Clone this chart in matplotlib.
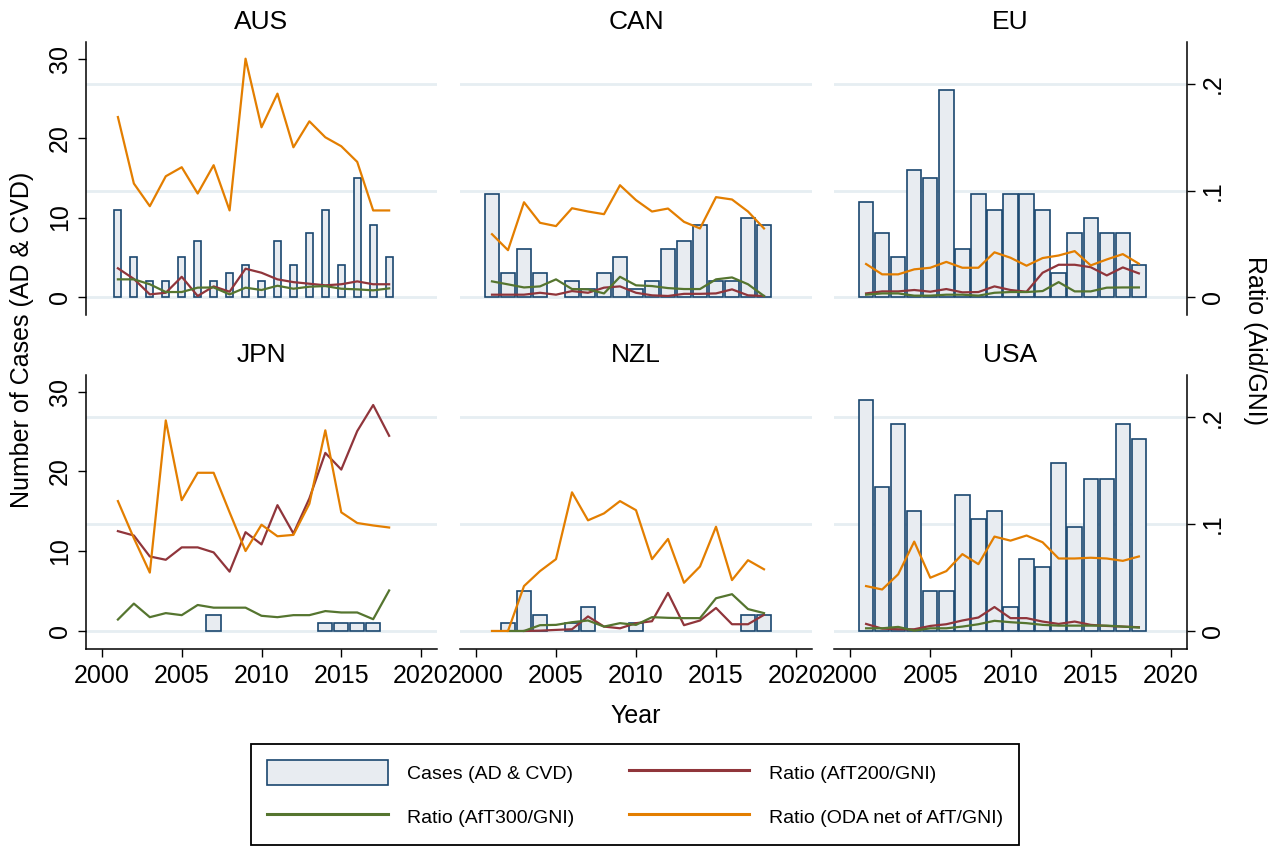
import numpy as np
import matplotlib
matplotlib.use("Agg")
import matplotlib.pyplot as plt
from matplotlib.patches import Patch
from matplotlib.lines import Line2D

plt.rcParams['font.family'] = ['Liberation Sans', 'DejaVu Sans']

nan = np.nan
years = np.arange(2001, 2019)
countries = ['AUS', 'CAN', 'EU', 'JPN', 'NZL', 'USA']

# cases (AD & CVD) per year
cases_aus = [11, 5, 2, 2, 5, 7, 2, 3, 4, 2, 7, 4, 8, 11, 4, 15, 9, 5]
cases_can = [13, 3, 6, 3, 0, 2, 1, 3, 5, 1, 2, 6, 7, 9, 2, 2, 10, 9]
cases_eu = [12, 8, 5, 16, 15, 26, 6, 13, 11, 13, 13, 11, 3, 8, 10, 8, 8, 4]
cases_jpn = [0, 0, 0, 0, 0, 0, 2, 0, 0, 0, 0, 0, 0, 1, 1, 1, 1, 0]
cases_nzl = [0, 1, 5, 2, 0, 1, 3, 0, 0, 1, 0, 0, 0, 0, 0, 0, 2, 2]
cases_usa = [29, 18, 26, 15, 5, 5, 17, 14, 15, 3, 9, 8, 21, 13, 19, 19, 26, 24]

# Ratio (AfT200/GNI)
aft200_aus = [.027, .017, .0025, .004, .019, .001, .010, .005, .0266, .0228,
              .0166, .014, .0125, .011, .012, .0147, .012, .012]
aft200_can = [.0022, .0022, .0022, .004, .0022, .0056, .004, .0088, .010, .004,
              .0016, .001, .003, .003, .0034, .0072, .0016, .001]
aft200_eu = [.0034, .0053, .0053, .0066, .005, .0075, .0044, .0047, .010, .0066,
             .005, .0228, .0303, .0303, .028, .0203, .0278, .0222]
aft200_jpn = [.0934, .0893, .0697, .0666, .0782, .0782, .0735, .0555, .0924, .081,
              .1177, .0912, .124, .1666, .151, .187, .2114, .1826]
aft200_nzl = [nan, nan, 0, .0003, .001, .0016, .0136, .0041, .0025, .0073,
              .0091, .0356, .0054, .0098, .0215, .0063, .0063, .0151]
aft200_usa = [.0066, .0022, .0016, .0016, .0047, .0063, .0098, .0126, .0224, .012,
              .012, .0088, .0066, .0088, .0057, .0047, .0041, .0035]

# Ratio (AfT300/GNI)
aft300_aus = [.0166, .0166, .012, .0047, .0047, .0088, .009, .0025, .0088, .0066,
              .0106, .0078, .0097, .0103, .0078, .0072, .0063, .0081]
aft300_can = [.0147, .0119, .009, .010, .0166, .0075, .0072, .0034, .019, .011,
              .0103, .0084, .0075, .0075, .0166, .0184, .012, .001]
aft300_eu = [.0022, .0034, .0034, .0013, .0013, .0022, .0022, .0013, .004, .0047,
             .0047, .0056, .014, .0053, .0053, .0088, .009, .009]
aft300_jpn = [.0107, .0256, .0129, .0167, .0148, .0243, .0218, .0218, .0218, .0142,
              .0129, .0148, .0148, .0186, .0173, .0173, .011, .0379]
aft300_nzl = [nan, 0, 0, .0054, .0057, .0082, .0098, .0041, .0073, .0057,
              .0129, .0123, .012, .012, .0306, .0344, .0205, .0167]
aft300_usa = [.0025, .0025, .0038, .0003, .0025, .0025, .0041, .0063, .0095, .0082,
              .0073, .0057, .005, .005, .005, .005, .0041, .0032]

# Ratio (ODA net of AfT/GNI)
oda_aus = [.169, .1066, .0853, .1134, .1219, .0972, .1238, .0813, .2238, .1594,
           .191, .1406, .165, .150, .1416, .1269, .0813, .0813]
oda_can = [.059, .044, .089, .0697, .0666, .0834, .0803, .0778, .105, .091,
           .0803, .0831, .0706, .0644, .0938, .0916, .0803, .0644]
oda_eu = [.031, .0213, .0213, .026, .0275, .033, .0275, .0275, .042, .0369,
          .0294, .0366, .039, .0431, .0297, .0353, .0403, .0313]
oda_jpn = [.1215, .0868, .0546, .197, .1224, .148, .148, .111, .0748, .0994,
           .0886, .0899, .119, .1877, .111, .101, .0987, .0968]
oda_nzl = [0, 0, .042, .056, .0672, .1297, .1035, .110, .1215, .113,
           .0672, .0861, .0451, .0603, .0975, .0476, .0662, .0577]
oda_usa = [.042, .0388, .053, .0836, .0498, .056, .0719, .0625, .0883, .0845,
           .0893, .083, .0678, .0678, .0685, .0678, .0656, .0697]

cases = [cases_aus, cases_can, cases_eu, cases_jpn, cases_nzl, cases_usa]
aft200 = [aft200_aus, aft200_can, aft200_eu, aft200_jpn, aft200_nzl, aft200_usa]
aft300 = [aft300_aus, aft300_can, aft300_eu, aft300_jpn, aft300_nzl, aft300_usa]
oda = [oda_aus, oda_can, oda_eu, oda_jpn, oda_nzl, oda_usa]
bar_width = [0.45, 0.9, 0.9, 0.9, 0.9, 0.9]

# colours (Stata s2color-like)
bar_fill = '#E8ECF1'
bar_edge = '#1A476F'
c_red = '#90353B'
c_green = '#55752F'
c_orange = '#E37E00'
c_grid = '#E6EEF2'

W, H = 1273, 848
fig = plt.figure(figsize=(W / 100, H / 100), dpi=100)

cols = [(86, 437), (460, 812), (834, 1187)]
rows = [(42, 315), (375, 649)]
case_lim = (-2.26, 32.08)
scale = 0.007465  # ratio units per case unit
ratio_lim = (case_lim[0] * scale, case_lim[1] * scale)

for i, name in enumerate(countries):
    r, k = divmod(i, 3)
    x0, x1 = cols[k]
    y0, y1 = rows[r]
    ax = fig.add_axes([x0 / W, 1 - y1 / H, (x1 - x0) / W, (y1 - y0) / H])
    ax2 = ax.twinx()

    # gridlines at the ratio ticks, behind the bars
    for g in [0, .1, .2]:
        ax.axhline(g / scale, color=c_grid, lw=2, zorder=0)

    c = np.array(cases[i], dtype=float)
    keep = c > 0
    ax.bar(years[keep], c[keep], width=bar_width[i], color=bar_fill,
           edgecolor=bar_edge, linewidth=1.2, zorder=2)
    ax2.plot(years, aft200[i], color=c_red, lw=1.6)
    ax2.plot(years, aft300[i], color=c_green, lw=1.6)
    ax2.plot(years, oda[i], color=c_orange, lw=1.6)

    ax.set_xlim(1999, 2021)
    ax.set_ylim(*case_lim)
    ax2.set_ylim(*ratio_lim)

    for sp in ['top', 'right']:
        ax.spines[sp].set_visible(False)
    for sp in ['top', 'left', 'bottom']:
        ax2.spines[sp].set_visible(False)
    ax.spines['left'].set_visible(k == 0)
    ax.spines['bottom'].set_visible(r == 1)
    ax2.spines['right'].set_visible(k == 2)
    for sp in ax.spines.values():
        sp.set_linewidth(1.1)
    ax2.spines['right'].set_linewidth(1.1)

    if k == 0:
        ax.set_yticks([0, 10, 20, 30])
        ax.set_yticklabels(['0', '10', '20', '30'], rotation=90, va='center')
        ax.tick_params(axis='y', labelsize=18, length=6, width=1, pad=4)
    else:
        ax.tick_params(axis='y', left=False, labelleft=False)

    if k == 2:
        ax2.set_yticks([0, .1, .2])
        ax2.set_yticklabels(['0', '.1', '.2'], rotation=90, va='center')
        ax2.tick_params(axis='y', labelsize=18, length=6, width=1, pad=4)
    else:
        ax2.tick_params(axis='y', right=False, labelright=False)

    if r == 1:
        ax.set_xticks([2000, 2005, 2010, 2015, 2020])
        ax.tick_params(axis='x', labelsize=18, length=6, width=1, pad=5)
    else:
        ax.tick_params(axis='x', bottom=False, labelbottom=False)

    fig.text((x0 + x1) / 2 / W, 1 - (y0 - 20) / H, name,
             ha='center', va='center', fontsize=19)

fig.text(22 / W, 1 - 340 / H, 'Number of Cases (AD & CVD)', rotation=90,
         ha='center', va='center', fontsize=18)
fig.text(1255 / W, 1 - 340 / H, 'Ratio (Aid/GNI)', rotation=-90,
         ha='center', va='center', fontsize=18)
fig.text(636 / W, 1 - 716 / H, 'Year', ha='center', va='center', fontsize=18)

handles = [
    Patch(facecolor=bar_fill, edgecolor=bar_edge, linewidth=1.2),
    Line2D([], [], color=c_green, lw=2.2),
    Line2D([], [], color=c_red, lw=2.2),
    Line2D([], [], color=c_orange, lw=2.2),
]
labels = ['Cases (AD & CVD)', 'Ratio (AfT300/GNI)',
          'Ratio (AfT200/GNI)', 'Ratio (ODA net of AfT/GNI)']
leg = fig.legend(handles, labels, ncol=2, loc='center',
                 bbox_to_anchor=(635 / W, 1 - 794.5 / H),
                 fontsize=14, handlelength=6.2, handleheight=1.55,
                 handletextpad=1.0, columnspacing=2.8, labelspacing=1.0,
                 borderpad=0.85, fancybox=False, framealpha=1)
leg.get_frame().set_edgecolor('black')
leg.get_frame().set_linewidth(1.3)

fig.savefig('out.png', dpi=100, facecolor='white')
